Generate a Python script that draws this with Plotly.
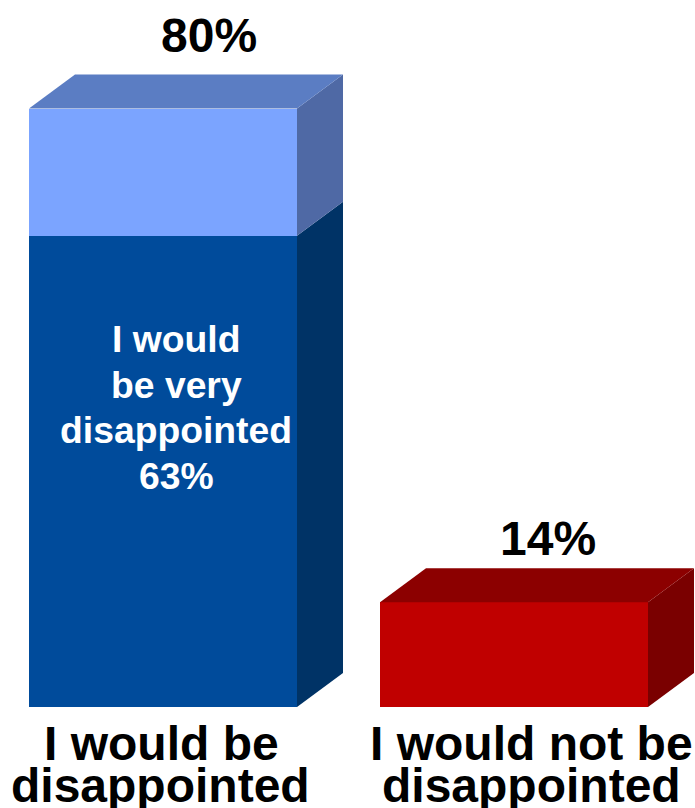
import plotly.graph_objects as go

categories = ["I would be disappointed", "I would not be disappointed"]
lower_values = [63, 14]
upper_values = [17, 0]
total_labels = ["80%", "14%"]
inner_lines = ["I would", "be very", "disappointed", "63%"]
bottom_lines = [["I would be", "disappointed"], ["I would not be", "disappointed"]]

W, H = 695, 808
BASE_PX = 707
PX_PER_UNIT = 7.48
CAT_PX = 351
X0_PX = 163
BAR_W = 268 / CAT_PX
DX = 46 / CAT_PX
DY = 34 / PX_PER_UNIT

FRONT = ["#004B9B", "#C00000"]
SIDE = ["#003366", "#7A0000"]
TOP = ["#003366", "#8C0000"]
U_FRONT, U_SIDE, U_TOP = "#7BA4FF", "#4F69A5", "#5B7DC3"

x_range = [(0 - X0_PX) / CAT_PX, (W - X0_PX) / CAT_PX]
y_range = [0, BASE_PX / PX_PER_UNIT]

fig = go.Figure()
xs = [0, 1]


def face(px, py, color):
    fig.add_trace(go.Scatter(x=px, y=py, mode="lines", fill="toself", fillcolor=color,
                             line=dict(width=0), hoverinfo="skip", showlegend=False))


for i, x in enumerate(xs):
    r = x + BAR_W / 2
    l = x - BAR_W / 2
    low = lower_values[i]
    tot = low + upper_values[i]
    face([r, r + DX, r + DX, r], [0, DY, low + DY, low], SIDE[i])
    if upper_values[i]:
        face([r, r + DX, r + DX, r], [low, low + DY, tot + DY, tot], U_SIDE)
    face([l, l + DX, r + DX, r], [tot, tot + DY, tot + DY, tot], U_TOP if upper_values[i] else TOP[i])

fig.add_trace(go.Bar(x=xs, y=lower_values, width=BAR_W, marker=dict(color=FRONT, line_width=0),
                     name="Lower", showlegend=False))
fig.add_trace(go.Bar(x=xs, y=upper_values, width=BAR_W, marker=dict(color=U_FRONT, line_width=0),
                     name="Upper", showlegend=False))

FONT = "Liberation Sans"
big = dict(family=FONT, size=48, color="black")
mid = dict(family=FONT, size=37.3, color="white")
ann = []


def text(s, px, py, font):
    ann.append(dict(text=f"<b>{s}</b>", x=px / W, y=(BASE_PX - py) / BASE_PX, xref="paper", yref="paper",
                    xanchor="center", yanchor="middle", showarrow=False, font=font))


text(total_labels[0], 209, 36, big)
text(total_labels[1], 548, 538, big)
for j, s in enumerate(inner_lines):
    text(s, 176, 339 + j * 45.6, mid)
for s, cx, py in [(bottom_lines[0][0], 161, 743), (bottom_lines[0][1], 160, 785),
                  (bottom_lines[1][0], 531, 743), (bottom_lines[1][1], 531, 785)]:
    text(s, cx, py, big)

fig.update_layout(
    width=W, height=H, barmode="stack", paper_bgcolor="white", plot_bgcolor="white",
    margin=dict(l=0, r=0, t=0, b=H - BASE_PX), autosize=False, annotations=ann,
    xaxis=dict(range=x_range, visible=False),
    yaxis=dict(range=y_range, visible=False),
)
fig.write_html("out.html", config=dict(displayModeBar=False),
               post_script="document.body.style.margin='0';document.body.style.overflow='hidden';")
